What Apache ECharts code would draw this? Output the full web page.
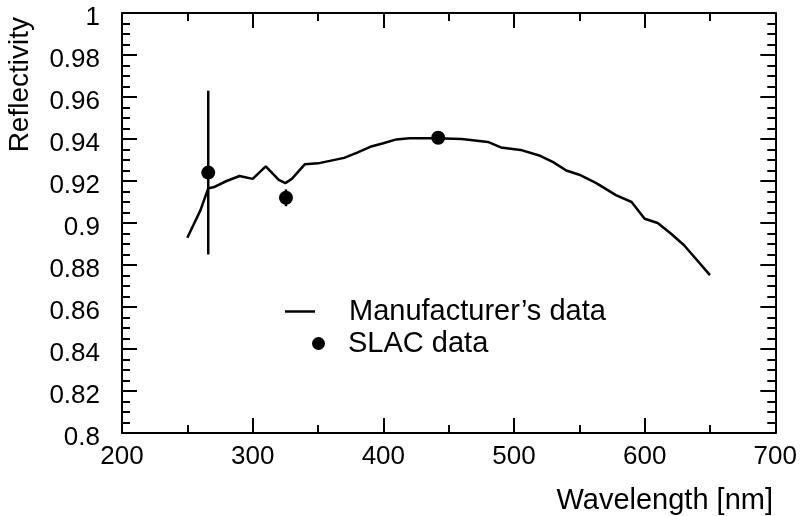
<!DOCTYPE html>
<html>
<head>
<meta charset="utf-8">
<script src="https://cdn.jsdelivr.net/npm/echarts@6/dist/echarts.min.js"></script>
<style>html,body{margin:0;padding:0;background:#fff;}#c{width:800px;height:516px;}</style>
</head>
<body>
<div id="c"></div>
<script>
// Manufacturer's data
const wavelength = [250,260,266,270,280,290,300,310,320,325,330,340,350,360,370,380,390,400,410,420,440,460,480,490,505,520,530,540,550,563,578,590,600,610,620,630,650];
const reflectivity = [0.893,0.906,0.9165,0.917,0.920,0.9224,0.921,0.927,0.9205,0.919,0.921,0.928,0.9284,0.9297,0.931,0.9335,0.9363,0.938,0.9398,0.9403,0.9403,0.940,0.9386,0.936,0.9348,0.932,0.929,0.925,0.923,0.919,0.9133,0.910,0.902,0.900,0.895,0.8895,0.8752];
// SLAC data
const slacX = [266, 325.5, 442];
const slacY = [0.924, 0.912, 0.9406];
const slacErr = [0.039, 0.004, 0.0015];

const FONT = 'Liberation Sans, Arial, Helvetica, sans-serif';
const lineData = wavelength.map((x, i) => [x, reflectivity[i]]);
const slacData = slacX.map((x, i) => [x, slacY[i]]);
const errData = slacX.map((x, i) => [x, slacY[i] - slacErr[i], slacY[i] + slacErr[i]]);

const axisCommon = {
  axisLine: { show: true, onZero: false, lineStyle: { color: '#000', width: 2 } },
  axisTick: { show: true, inside: true, length: 15, lineStyle: { color: '#000', width: 2 } },
  minorTick: { show: true, length: 8, lineStyle: { color: '#000', width: 2 } },
  splitLine: { show: false }
};

const chart = echarts.init(document.getElementById('c'), null, { renderer: 'canvas' });
chart.setOption({
  animation: false,
  backgroundColor: '#fff',
  grid: { left: 122, right: 24, top: 13, bottom: 83, containLabel: false },
  xAxis: [
    Object.assign({}, axisCommon, {
      type: 'value', position: 'bottom', min: 200, max: 700, interval: 100,
      minorTick: Object.assign({}, axisCommon.minorTick, { splitNumber: 2 }),
      axisLabel: { fontFamily: FONT, fontSize: 26, color: '#000', margin: 11 }
    }),
    Object.assign({}, axisCommon, {
      type: 'value', position: 'top', min: 200, max: 700, interval: 100,
      minorTick: Object.assign({}, axisCommon.minorTick, { splitNumber: 2 }),
      axisLabel: { show: false }
    })
  ],
  yAxis: [
    Object.assign({}, axisCommon, {
      type: 'value', position: 'left', min: 0.8, max: 1, interval: 0.02,
      minorTick: Object.assign({}, axisCommon.minorTick, { splitNumber: 4 }),
      axisLabel: {
        color: '#000', margin: 22,
        formatter: function (v) { return '{a|' + v + '}'; },
        rich: { a: { fontFamily: FONT, fontSize: 26, color: '#000', padding: [9, 0, 0, 0] } }
      }
    }),
    Object.assign({}, axisCommon, {
      type: 'value', position: 'right', min: 0.8, max: 1, interval: 0.02,
      minorTick: Object.assign({}, axisCommon.minorTick, { splitNumber: 4 }),
      axisLabel: { show: false }
    })
  ],
  legend: [
    {
      data: [{ name: 'Manufacturer’s data', icon: 'rect' }],
      left: 280, top: 292, orient: 'vertical', selectedMode: false,
      itemWidth: 30, itemHeight: 2.5,
      itemStyle: { color: '#000', borderWidth: 0, opacity: 1 },
      textStyle: { fontFamily: FONT, fontSize: 29, color: '#000', padding: [0, 0, 0, 29] }
    },
    {
      data: [{ name: 'SLAC data', icon: 'circle' }],
      left: 307, top: 324, orient: 'vertical', selectedMode: false,
      itemWidth: 13, itemHeight: 13,
      itemStyle: { color: '#000', borderWidth: 0, opacity: 1 },
      textStyle: { fontFamily: FONT, fontSize: 29, color: '#000', padding: [0, 0, 0, 18] }
    }
  ],
  graphic: [
    { type: 'text', right: 27, top: 486, style: { text: 'Wavelength [nm]', font: '29px ' + FONT, fill: '#000' } },
    { type: 'text', left: 6, top: 17, rotation: Math.PI / 2, style: { text: 'Reflectivity', font: '28px ' + FONT, fill: '#000' } }
  ],
  series: [
    {
      name: 'Manufacturer’s data', type: 'line', data: lineData, showSymbol: false,
      xAxisIndex: 0, yAxisIndex: 0,
      lineStyle: { color: '#000', width: 2.5 }, itemStyle: { color: '#000' }, z: 2
    },
    {
      name: 'errors', type: 'custom', data: errData, xAxisIndex: 0, yAxisIndex: 0, z: 3,
      renderItem: function (params, api) {
        const p1 = api.coord([api.value(0), api.value(1)]);
        const p2 = api.coord([api.value(0), api.value(2)]);
        return { type: 'line', shape: { x1: p1[0], y1: p1[1], x2: p2[0], y2: p2[1] }, style: { stroke: '#000', lineWidth: 2.5 } };
      }
    },
    {
      name: 'SLAC data', type: 'scatter', data: slacData, symbol: 'circle', symbolSize: 14,
      xAxisIndex: 0, yAxisIndex: 0,
      itemStyle: { color: '#000', opacity: 1 }, z: 4
    }
  ]
});
</script>
</body>
</html>
